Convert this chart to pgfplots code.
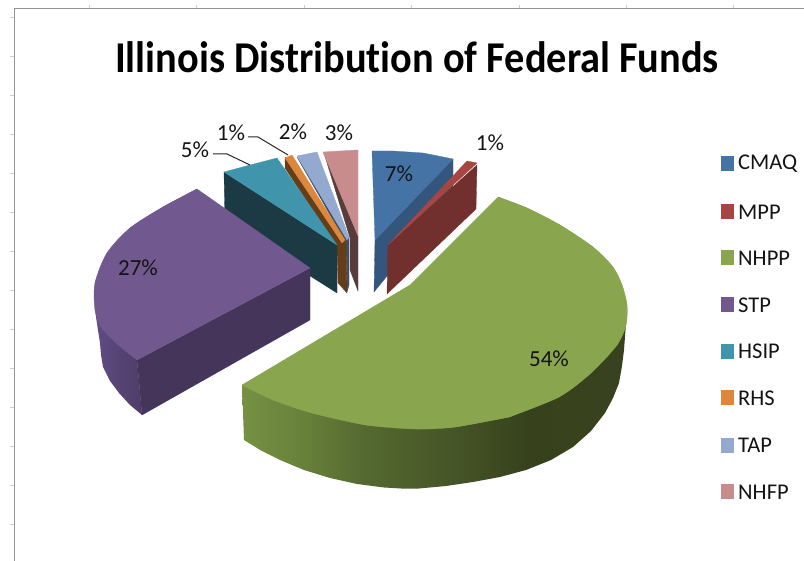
\documentclass[border=0pt]{standalone}
\usepackage{fontspec}
\setmainfont[Ligatures=NoCommon]{Carlito}
\usepackage{pgfplots}
\pgfplotsset{compat=1.18}
\definecolor{cblue}{RGB}{70,115,165}
\definecolor{cbluew}{RGB}{52,86,124}
\definecolor{cred}{RGB}{165,70,66}
\definecolor{credw}{RGB}{113,48,45}
\definecolor{cgreen}{RGB}{137,165,78}
\definecolor{cpurple}{RGB}{113,88,143}
\definecolor{cpurplew}{RGB}{69,53,90}
\definecolor{cteal}{RGB}{64,148,172}
\definecolor{ctealw}{RGB}{27,58,68}
\definecolor{corange}{RGB}{220,135,60}
\definecolor{corangew}{RGB}{100,62,25}
\definecolor{clight}{RGB}{147,169,207}
\definecolor{clightw}{RGB}{64,78,102}
\definecolor{cpink}{RGB}{200,140,140}
\definecolor{cpinkw}{RGB}{88,60,60}
\definecolor{cframe}{RGB}{150,150,150}
\definecolor{ctick}{RGB}{205,205,205}
\definecolor{ctext}{RGB}{20,20,20}
\pgfdeclarehorizontalshading{greenwall}{100bp}{
 rgb(0bp)=(.46,.57,.26);
 rgb(25bp)=(.46,.57,.26);
 rgb(32.5bp)=(.41,.51,.23);
 rgb(41bp)=(.33,.41,.19);
 rgb(53bp)=(.27,.33,.15);
 rgb(62bp)=(.215,.26,.11);
 rgb(75bp)=(.225,.26,.12);
 rgb(100bp)=(.225,.26,.12)}
\newcommand\poly[2]{\addplot[fill=#1,draw=#1,line width=0.3pt] coordinates {#2} -- cycle;}
\newcommand\arcfill[2]{\addplot[smooth,fill=#1,draw=#1,line width=0.3pt] coordinates {#2};}
\newcommand\hair[2]{\addplot[color=#1,line width=0.9pt] coordinates {#2};}
\begin{document}
\begin{tikzpicture}
\useasboundingbox (0,0) rectangle (804pt,561pt);
\begin{axis}[at={(0,0)},anchor=south west,scale only axis,width=804pt,height=561pt,
  xmin=0,xmax=804,ymin=0,ymax=561,y dir=reverse,hide axis,clip=false]
% frame
\hair{cframe}{(14,561) (14,8) (804,8)}
\hair{ctick}{(10,17) (14,17)}\hair{ctick}{(10,56) (14,56)}\hair{ctick}{(10,95) (14,95)}
\hair{ctick}{(10,134) (14,134)}\hair{ctick}{(10,173) (14,173)}\hair{ctick}{(10,212) (14,212)}
\hair{ctick}{(10,251) (14,251)}\hair{ctick}{(10,290) (14,290)}\hair{ctick}{(10,329) (14,329)}
\hair{ctick}{(10,368) (14,368)}\hair{ctick}{(10,407) (14,407)}\hair{ctick}{(10,446) (14,446)}
\hair{ctick}{(10,485) (14,485)}\hair{ctick}{(10,524) (14,524)}
\hair{ctick}{(89,5) (89,8)}\hair{ctick}{(196,5) (196,8)}\hair{ctick}{(304,5) (304,8)}
\hair{ctick}{(411,5) (411,8)}\hair{ctick}{(519,5) (519,8)}\hair{ctick}{(626,5) (626,8)}\hair{ctick}{(733,5) (733,8)}
% NHPP wall and top
\addplot[shading=greenwall,draw=none] coordinates {(242,385) (244,440) (261,450.5) (280,460) (304,470) (330,478) (357,484) (384,487.5) (401,488.5) (419,488.5) (446,486) (473,482) (500,477) (526,470) (551,460) (573,447) (591,431) (605,413) (613,398) (619,383) (622,366) (624,350) (625.5,330) (626,310)} -- cycle;
\arcfill{cgreen}{(498,197) (527,208) (560,225) (593,247) (613,267) (622,285) (627,305) (626,325) (617,345) (591,373) (559,397) (509,417)}
\arcfill{cgreen}{(509,417) (455,427) (416,429) (366,425) (312,413) (273,400) (242,385)}
\poly{cgreen}{(410,285) (498,197) (527,208) (560,225) (593,247) (613,267) (622,285) (627,305) (626,325) (617,345) (591,373) (559,397) (509,417) (455,427) (416,429) (366,425) (312,413) (273,400) (242,385)}
% NHFP
\poly{cpinkw}{(324,153) (350,238) (350,270) (358,291) (358,236)}
\poly{cpink}{(323,152) (340,151) (358,150) (358,236)}
% TAP
\poly{clightw}{(297,157) (346,243) (347,292) (349,285) (349,237)}
\poly{clight}{(297,156) (307,154) (317,152) (349,237) (347,240)}
% RHS
\poly{corangew}{(285,157) (285,168) (337,247) (338,283) (347,293) (346,243)}
\poly{corange}{(285,158) (292,155) (345,240) (342,243)}
% HSIP
\poly{ctealw}{(224,172) (337,245) (337,293) (225,222)}
\poly{cteal}{(224,172) (250,165) (277,158) (337,245)}
% STP
\addplot[left color={rgb,255:red,96;green,76;blue,131},right color={rgb,255:red,78;green,60;blue,104},draw=none] coordinates {(95,300) (96,317) (98,330) (100,343) (101,355) (103,367) (110,381) (119,393) (130,405) (142,415) (137,360) (116,343)} -- cycle;
\poly{cpurplew}{(137,360) (310,268) (310,320) (142,415)}
\arcfill{cpurple}{(197,189) (163,207) (130,228) (107,253) (95,283) (95,310) (101,327) (116,343) (137,360)}
\poly{cpurple}{(310,268) (197,189) (163,207) (130,228) (107,253) (95,283) (95,310) (101,327) (116,343) (137,360)}
% CMAQ
\poly{cbluew}{(375,240) (453,159) (453,195) (374,292)}
\poly{cblue}{(372,151) (393,151) (423,153) (453,159) (375,240)}
% MPP
\poly{credw}{(388,245) (477,165) (476,209) (387,294)}
\poly{cred}{(467,161) (477,163) (388,245)}
% leaders
\addplot[color=black!85,line width=1pt] coordinates {(213,154) (227,154) (250,165)};
\addplot[color=black!85,line width=1pt] coordinates {(248,137) (258,137) (288,155)};
% legend swatches
\poly{cblue}{(721,156) (733,156) (733,170) (721,170)}
\poly{cred}{(721,204) (733,204) (733,218) (721,218)}
\poly{cgreen}{(721,250) (733,250) (733,264) (721,264)}
\poly{cpurple}{(721,297) (733,297) (733,311) (721,311)}
\poly{cteal}{(721,344) (733,344) (733,358) (721,358)}
\poly{corange}{(721,390) (733,390) (733,404) (721,404)}
\poly{clight}{(721,438) (733,438) (733,452) (721,452)}
\poly{cpink}{(721,484) (733,484) (733,498) (721,498)}
% title
\node[text=black,xscale=.917,font=\fontsize{44}{44}\selectfont\bfseries] at (axis cs:417,57) {Illinois Distribution of Federal Funds};
% labels
\node[text=ctext,font=\fontsize{23}{23}\selectfont] at (axis cs:399,174) {7\%};
\node[text=ctext,font=\fontsize{23}{23}\selectfont] at (axis cs:490,143) {1\%};
\node[text=ctext,font=\fontsize{23}{23}\selectfont] at (axis cs:549,359) {54\%};
\node[text=ctext,font=\fontsize{23}{23}\selectfont] at (axis cs:138,268) {27\%};
\node[text=ctext,font=\fontsize{23}{23}\selectfont] at (axis cs:195,150) {5\%};
\node[text=ctext,font=\fontsize{23}{23}\selectfont] at (axis cs:231,133) {1\%};
\node[text=ctext,font=\fontsize{23}{23}\selectfont] at (axis cs:293,132) {2\%};
\node[text=ctext,font=\fontsize{23}{23}\selectfont] at (axis cs:339,133) {3\%};
% legend text
\node[anchor=west,inner sep=0pt,text=ctext,font=\fontsize{22.5}{22.5}\selectfont] at (axis cs:738,164) {CMAQ};
\node[anchor=west,inner sep=0pt,text=ctext,font=\fontsize{22.5}{22.5}\selectfont] at (axis cs:738,212) {MPP};
\node[anchor=west,inner sep=0pt,text=ctext,font=\fontsize{22.5}{22.5}\selectfont] at (axis cs:738,258) {NHPP};
\node[anchor=west,inner sep=0pt,text=ctext,font=\fontsize{22.5}{22.5}\selectfont] at (axis cs:738,305) {STP};
\node[anchor=west,inner sep=0pt,text=ctext,font=\fontsize{22.5}{22.5}\selectfont] at (axis cs:738,351) {HSIP};
\node[anchor=west,inner sep=0pt,text=ctext,font=\fontsize{22.5}{22.5}\selectfont] at (axis cs:738,398) {RHS};
\node[anchor=west,inner sep=0pt,text=ctext,font=\fontsize{22.5}{22.5}\selectfont] at (axis cs:738,445) {TAP};
\node[anchor=west,inner sep=0pt,text=ctext,font=\fontsize{22.5}{22.5}\selectfont] at (axis cs:738,492) {NHFP};
\end{axis}
\end{tikzpicture}
\end{document}
